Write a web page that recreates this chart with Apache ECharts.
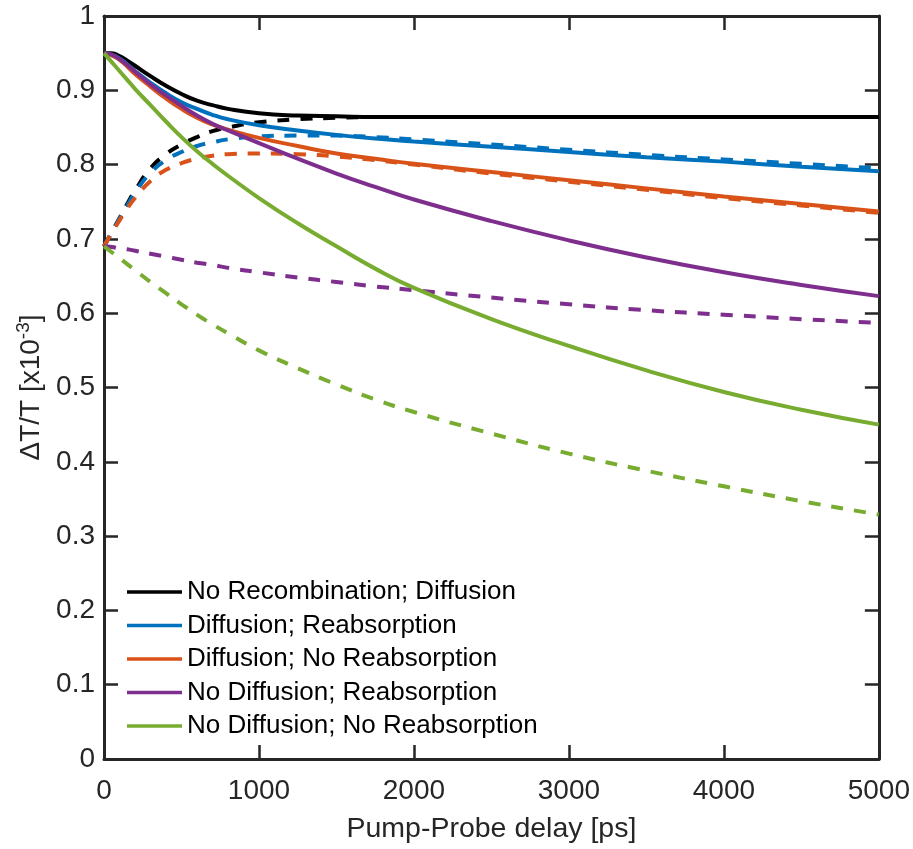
<!DOCTYPE html>
<html>
<head>
<meta charset="utf-8">
<style>
  html, body { margin: 0; padding: 0; background: #ffffff; }
  #chart { width: 913px; height: 849px; }
</style>
<script src="https://cdn.jsdelivr.net/npm/echarts@6/dist/echarts.min.js"></script>
</head>
<body>
<div id="chart"></div>
<script>
// Pump-probe delay samples (ps)
const delays = [0, 50, 100, 150, 200, 300, 400, 500, 600, 700, 800, 1000, 1250, 1500, 1750, 2000, 2500, 3000, 3500, 4000, 4500, 5000];

// ΔT/T (x10^-3), solid curves
const noRecombDiff   = [0.950, 0.950, 0.946, 0.940, 0.933, 0.919, 0.906, 0.895, 0.886, 0.880, 0.875, 0.869, 0.866, 0.865, 0.864, 0.864, 0.864, 0.864, 0.864, 0.864, 0.864, 0.864];
const diffReabs      = [0.950, 0.948, 0.943, 0.935, 0.926, 0.910, 0.896, 0.884, 0.875, 0.867, 0.861, 0.853, 0.846, 0.840, 0.835, 0.831, 0.824, 0.817, 0.810, 0.804, 0.797, 0.791];
const diffNoReabs    = [0.950, 0.947, 0.941, 0.932, 0.922, 0.905, 0.889, 0.875, 0.863, 0.854, 0.847, 0.836, 0.825, 0.815, 0.808, 0.801, 0.790, 0.779, 0.768, 0.757, 0.747, 0.737];
const noDiffReabs    = [0.950, 0.948, 0.942, 0.934, 0.925, 0.908, 0.893, 0.879, 0.866, 0.855, 0.846, 0.829, 0.808, 0.788, 0.770, 0.753, 0.724, 0.698, 0.675, 0.655, 0.638, 0.623];
const noDiffNoReabs  = [0.950, 0.938, 0.926, 0.914, 0.902, 0.880, 0.858, 0.837, 0.818, 0.801, 0.785, 0.755, 0.721, 0.690, 0.660, 0.634, 0.592, 0.556, 0.523, 0.494, 0.470, 0.450];

// ΔT/T (x10^-3), dashed counterparts
const noRecombDiffD  = [0.690, 0.709, 0.728, 0.747, 0.765, 0.795, 0.814, 0.827, 0.837, 0.845, 0.850, 0.857, 0.861, 0.863, 0.864, 0.864, 0.864, 0.864, 0.864, 0.864, 0.864, 0.864];
const diffReabsD     = [0.690, 0.709, 0.727, 0.745, 0.762, 0.789, 0.806, 0.817, 0.825, 0.830, 0.834, 0.838, 0.839, 0.839, 0.837, 0.834, 0.827, 0.820, 0.813, 0.807, 0.801, 0.795];
const diffNoReabsD   = [0.690, 0.708, 0.725, 0.741, 0.755, 0.778, 0.793, 0.802, 0.808, 0.812, 0.814, 0.815, 0.814, 0.811, 0.806, 0.800, 0.788, 0.777, 0.766, 0.755, 0.745, 0.735];
const noDiffReabsD   = [0.690, 0.689, 0.687, 0.686, 0.684, 0.680, 0.676, 0.672, 0.668, 0.665, 0.661, 0.655, 0.648, 0.642, 0.636, 0.631, 0.621, 0.612, 0.604, 0.598, 0.592, 0.587];
const noDiffNoReabsD = [0.690, 0.682, 0.674, 0.666, 0.658, 0.642, 0.627, 0.612, 0.598, 0.585, 0.573, 0.550, 0.526, 0.504, 0.484, 0.467, 0.438, 0.411, 0.388, 0.367, 0.347, 0.329];

const legendNames = [
  'No Recombination; Diffusion',
  'Diffusion; Reabsorption',
  'Diffusion; No Reabsorption',
  'No Diffusion; Reabsorption',
  'No Diffusion; No Reabsorption'
];
const colors = ['#000000', '#0072BD', '#D95319', '#7E2F8E', '#77AC30'];
const solidSets = [noRecombDiff, diffReabs, diffNoReabs, noDiffReabs, noDiffNoReabs];
const dashedSets = [noRecombDiffD, diffReabsD, diffNoReabsD, noDiffReabsD, noDiffNoReabsD];

const FONT = 'Liberation Sans, Arial, Helvetica, sans-serif';
const AX = '#262626';
const LW = 4;

const pairs = arr => delays.map((t, i) => [t, arr[i]]);

const series = [];
solidSets.forEach((arr, i) => {
  series.push({
    name: legendNames[i],
    type: 'line',
    data: pairs(arr),
    smooth: 0.5,
    symbol: 'none',
    lineStyle: { color: colors[i], width: LW },
    itemStyle: { color: colors[i] },
    z: 3
  });
});
dashedSets.forEach((arr, i) => {
  series.push({
    name: legendNames[i] + ' (dashed)',
    type: 'line',
    data: pairs(arr),
    smooth: 0.5,
    symbol: 'none',
    lineStyle: { color: colors[i], width: LW, type: [12, 11] },
    itemStyle: { color: colors[i] },
    z: 2
  });
});

const frameAxis = {
  axisLine: { show: true, onZero: false, lineStyle: { color: AX, width: 3 } },
  axisTick: { show: true, inside: true, length: 14, lineStyle: { color: AX, width: 2.5 } },
  splitLine: { show: false }
};

const chart = echarts.init(document.getElementById('chart'), null, { renderer: 'canvas' });
chart.setOption({
  backgroundColor: '#ffffff',
  animation: false,
  textStyle: { fontFamily: FONT },
  grid: { left: 104, right: 34, top: 16, bottom: 89, containLabel: false },
  legend: {
    show: true,
    data: legendNames,
    orient: 'vertical',
    left: 122,
    top: 572,
    itemWidth: 55,
    itemHeight: 3.5,
    itemGap: 3.5,
    icon: 'rect',
    selectedMode: false,
    textStyle: { fontFamily: FONT, fontSize: 26, color: '#000000', lineHeight: 30 }
  },
  xAxis: [
    Object.assign({
      type: 'value', min: 0, max: 5000, interval: 1000, position: 'bottom',
      name: 'Pump-Probe delay [ps]', nameLocation: 'middle', nameGap: 56,
      nameTextStyle: { fontFamily: FONT, fontSize: 28.5, color: AX },
      axisLabel: { fontFamily: FONT, fontSize: 28, color: AX, margin: 18, formatter: v => String(v) }
    }, frameAxis),
    Object.assign({
      type: 'value', min: 0, max: 5000, interval: 1000, position: 'top',
      axisLabel: { show: false }
    }, frameAxis)
  ],
  yAxis: [
    Object.assign({
      type: 'value', min: 0, max: 1, interval: 0.1, position: 'left',
      name: '{a|ΔT/T [x10}{s|-3}{a|]}', nameLocation: 'middle', nameGap: 55, nameRotate: 90,
      nameTextStyle: {
        fontFamily: FONT, color: AX,
        rich: {
          a: { fontFamily: FONT, fontSize: 28, color: AX, lineHeight: 34 },
          s: { fontFamily: FONT, fontSize: 19, color: AX, lineHeight: 20, verticalAlign: 'top' }
        }
      },
      axisLabel: { fontFamily: FONT, fontSize: 28, color: AX, margin: 9 }
    }, frameAxis),
    Object.assign({
      type: 'value', min: 0, max: 1, interval: 0.1, position: 'right',
      axisLabel: { show: false }
    }, frameAxis)
  ],
  series: series
});
</script>
</body>
</html>
